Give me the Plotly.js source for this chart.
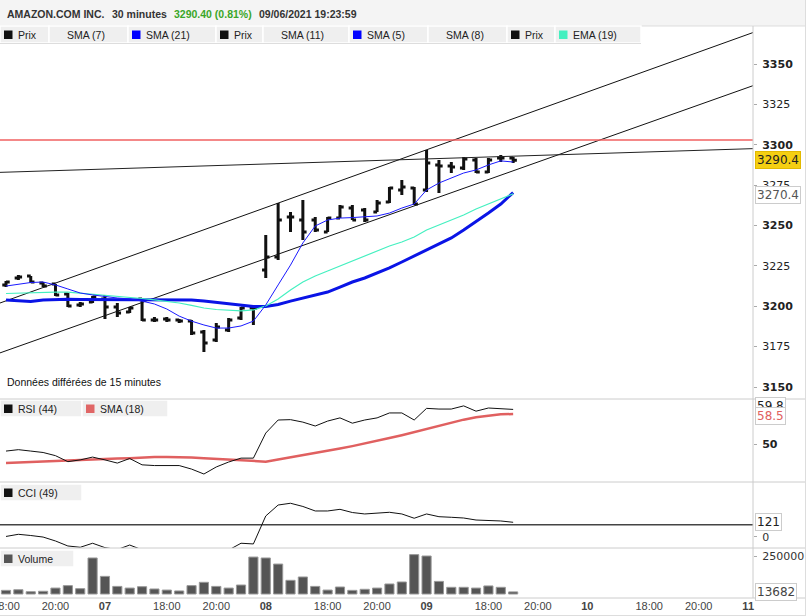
<!DOCTYPE html>
<html><head><meta charset="utf-8">
<script src="https://cdn.plot.ly/plotly-3.0.1.min.js"></script>
<style>html,body{margin:0;padding:0;background:#fff;overflow:hidden}#chart{width:806px;height:616px}</style>
</head><body><div id="chart"></div>
<script>
// ---------- DATA ----------
const barTimes = ['04 18:00','04 18:30','04 19:00','04 19:30','04 20:00','04 20:30','04 21:00','04 21:30',
 '07 15:30','07 16:00','07 16:30','07 17:00','07 17:30','07 18:00','07 18:30','07 19:00','07 19:30','07 20:00','07 20:30','07 21:00','07 21:30',
 '08 15:30','08 16:00','08 16:30','08 17:00','08 17:30','08 18:00','08 18:30','08 19:00','08 19:30','08 20:00','08 20:30','08 21:00','08 21:30',
 '09 15:30','09 16:00','09 16:30','09 17:00','09 17:30','09 18:00','09 18:30','09 19:00'];
const openP  = [3213.2,3217.5,3218.7,3214.4,3213.8,3207.6,3200.8,3202.6,3204.5,3199.6,3196.4,3204.5,3191.5,3192.1,3191.5,3190.8,3184.0,3179.1,3185.3,3192.7,3198.9,3222.4,3230.5,3255.3,3253.4,3253.4,3246.0,3254.6,3260.8,3259.6,3258.4,3264.5,3272.0,3273.2,3272.0,3287.5,3286.9,3285.6,3290.6,3283.1,3291.8,3291.8];
const highP  = [3215.6,3219.4,3218.7,3215.0,3213.8,3208.2,3202.6,3206.3,3207.0,3202.0,3199.6,3205.1,3193.3,3193.3,3192.1,3191.5,3185.3,3189.6,3192.7,3199.6,3199.6,3244.1,3263.9,3258.4,3265.8,3255.3,3255.3,3262.7,3262.7,3260.8,3265.8,3273.8,3278.2,3273.8,3296.8,3290.6,3289.3,3292.4,3291.8,3291.8,3293.7,3292.4];
const lowP   = [3211.9,3216.3,3214.4,3211.9,3206.3,3199.6,3199.6,3202.0,3192.1,3193.3,3195.8,3190.8,3190.2,3190.2,3189.6,3182.2,3171.7,3177.9,3184.0,3191.5,3188.4,3217.5,3228.6,3246.0,3241.0,3246.0,3246.0,3254.6,3253.4,3252.2,3258.4,3263.9,3268.9,3262.7,3270.7,3270.1,3282.5,3284.4,3282.5,3282.5,3289.3,3288.7];
const closeP = [3215.0,3218.1,3215.0,3212.5,3207.0,3200.2,3201.4,3205.7,3199.6,3195.8,3198.9,3191.5,3191.5,3191.5,3190.8,3183.4,3177.2,3187.1,3191.5,3198.9,3198.9,3230.5,3253.4,3255.3,3246.0,3247.2,3254.6,3261.5,3253.4,3253.4,3263.9,3273.2,3273.8,3263.3,3288.7,3286.9,3286.2,3291.2,3283.1,3290.6,3291.8,3290.4];
const sma5  = [3212.5,3213.8,3214.7,3215.0,3213.2,3210.7,3208.2,3207.0,3206.0,3205.1,3204.5,3203.2,3201.4,3198.3,3193.9,3190.8,3188.4,3186.5,3186.5,3187.8,3190.8,3200.8,3213.2,3225.5,3239.2,3249.7,3253.4,3254.6,3254.9,3255.3,3255.9,3257.7,3260.8,3263.3,3272.0,3276.3,3279.4,3282.5,3284.4,3287.5,3290.0,3289.3];
const sma21 = [3203.9,3203.6,3202.9,3203.9,3204.2,3204.3,3204.2,3204.2,3204.3,3204.2,3204.1,3204.2,3204.3,3204.2,3204.1,3203.9,3203.2,3202.3,3201.4,3200.5,3199.9,3199.9,3201.1,3203.2,3205.1,3207.0,3208.8,3211.9,3215.0,3217.5,3220.6,3223.7,3227.4,3231.1,3234.8,3238.5,3242.3,3247.2,3252.2,3257.7,3263.3,3270.4];
const ema19 = [3207.9,3208.2,3208.2,3208.5,3208.8,3208.8,3208.2,3207.6,3206.6,3206.0,3205.4,3204.8,3203.9,3202.9,3202.0,3200.5,3198.9,3198.0,3197.4,3197.1,3197.7,3200.2,3204.5,3210.1,3215.0,3218.7,3221.8,3224.9,3228.0,3231.1,3234.2,3237.3,3239.8,3242.9,3247.2,3250.3,3253.4,3256.5,3260.2,3263.3,3266.4,3269.6];
const rsi44 = [48.0,48.4,48.0,47.6,46.7,45.0,45.5,46.3,45.5,44.6,45.9,44.1,43.9,43.9,43.9,42.9,41.5,43.5,44.9,46.0,46.0,53.1,56.8,56.9,56.2,55.1,56.5,57.4,55.9,56.8,57.4,58.8,58.8,56.8,60.1,59.9,59.9,60.8,59.3,60.2,60.1,59.8];
const rsiSma18 = [44.6,44.8,44.9,45.0,45.2,45.3,45.5,45.6,45.8,45.9,46.0,46.2,46.3,46.3,46.3,46.2,46.0,45.8,45.5,45.2,45.0,45.0,45.6,46.2,46.7,47.3,48.0,48.7,49.4,50.1,50.8,51.7,52.5,53.4,54.2,55.2,56.1,56.9,57.6,58.1,58.4,58.5];
const cci49 = [2,20,10,-3,-36,-78,-89,-55,-92,-108,-70,-110,-130,-140,-135,-150,-180,-140,-112,-55,-61,174,266,281,254,216,216,230,203,191,197,205,191,155,191,168,163,157,140,136,132,121];
const volume = [24000,28000,15000,18000,39000,55000,35000,237000,116000,50000,39000,48000,33000,26000,20000,55000,77000,50000,39000,59000,243000,237000,197000,90000,112000,50000,26000,46000,24000,31000,39000,66000,79000,259000,250000,83000,44000,44000,39000,53000,44000,13682];
const cciLevel = 100;
const resistance = 3302.9;
const trendX = [-0.49, 60.4];
const upperChannel = [3202.0, 3369.5];
const lowerChannel = [3171.1, 3336.6];
const flatLine = [3282.9, 3297.6];
const timeTickIdx = [0,4,8,13,17,21,26,30,34,39,43,47,52,56,60];
const timeTickText = ['18:00','20:00','<b>07</b>','18:00','20:00','<b>08</b>','18:00','20:00','<b>09</b>','18:00','20:00','<b>10</b>','18:00','20:00','<b>11</b>'];
const priceTicks = [3150,3175,3200,3225,3250,3275,3300,3325,3350];

// ---------- LAYOUT HELPERS ----------
const W = 806, H = 616, ML = 0, MR = 53, MT = 27, MB = 18;
const PW = W - ML - MR, PH = H - MT - MB;
const px = p => (p - ML) / PW;
const py = p => (H - MB - p) / PH;
const x = barTimes.map((t, i) => i);
const shapes = [], annotations = [];
const FONT = 'Liberation Sans, Arial, sans-serif';
const AXF = 'DejaVu Sans, Verdana, sans-serif';

function hline(yPix, x0, x1, color, w) {
  shapes.push({type:'line', xref:'paper', yref:'paper', x0:px(x0), x1:px(x1), y0:py(yPix), y1:py(yPix), line:{color:color, width:w||1}, layer:'above'});
}
function vline(xPix, y0, y1, color, w) {
  shapes.push({type:'line', xref:'paper', yref:'paper', x0:px(xPix), x1:px(xPix), y0:py(y0), y1:py(y1), line:{color:color, width:w||1}, layer:'above'});
}
function legendRow(items, y0, y1) {
  const ym = (y0 + y1) / 2;
  items.forEach(([x0, x1, col, label]) => {
    shapes.push({type:'rect', xref:'paper', yref:'paper', x0:px(x0), x1:px(x1), y0:py(y1), y1:py(y0), fillcolor:'#efefef', line:{color:'#ffffff', width:1.5}, layer:'above'});
    if (col) shapes.push({type:'rect', xref:'paper', yref:'paper', x0:px(x0+4), x1:px(x0+12.5), y0:py(ym+4.5), y1:py(ym-4), fillcolor:col, line:{width:0}, layer:'above'});
    annotations.push({xref:'paper', yref:'paper', x:px(x0+16), y:py(ym), xanchor:'left', yanchor:'middle', text:label, showarrow:false, font:{family:FONT, size:10.5, color:'#222'}});
  });
}

// header
shapes.push({type:'rect', xref:'paper', yref:'paper', x0:px(0), x1:px(W), y0:py(26), y1:py(0), fillcolor:'#f4f4f4', line:{width:0}, layer:'above'});
hline(26, 0, W, '#dddddd', 1);
const hdr = [[5,'AMAZON.COM INC.','#333'],[110,'30 minutes','#333'],[172,'3290.40 (0.81%)','#3aa629'],[257,'09/06/2021 19:23:59','#333']];
hdr.forEach(([xp, t, c]) => annotations.push({xref:'paper', yref:'paper', x:px(xp), y:py(14), xanchor:'left', yanchor:'middle', text:'<b>'+t+'</b>', showarrow:false, font:{family:FONT, size:10.5, color:c}}));

legendRow([[0,49,'#111','Prix'],[49,128,null,'SMA (7)'],[128,216,'#0000ff','SMA (21)'],[216,263,'#111','Prix'],[263,349,null,'SMA (11)'],[349,428,'#0000ff','SMA (5)'],[428,507,null,'SMA (8)'],[507,555,'#111','Prix'],[555,641,'#44f0c0','EMA (19)']], 26, 43);
hline(43.5, 0, 641, '#dddddd', 1);
legendRow([[0,82,'#111','RSI (44)'],[82,168,'#e06666','SMA (18)']], 400, 417);
legendRow([[0,82,'#111','CCI (49)']], 484, 501);
legendRow([[0,74,'#555','Volume']], 550, 567);

// panel separators / frame
hline(399, 0, W, '#cccccc', 1);
hline(482, 0, W, '#cccccc', 1);
hline(548, 0, W, '#cccccc', 1);
hline(598, 0, W, '#cccccc', 1);
hline(615.5, 0, W, '#dddddd', 1);
vline(753, 26, 598, '#cccccc', 1);
vline(805.5, 0, H, '#dddddd', 1);

annotations.push({xref:'paper', yref:'paper', x:px(5), y:py(382), xanchor:'left', yanchor:'middle', text:'Données différées de 15 minutes', showarrow:false, font:{family:FONT, size:10.5, color:'#111'}});

// value labels on the right
function valLabel(yref, val, txt, bg, border, col, yshift) {
  annotations.push({xref:'paper', yref:yref, x:px(755), y:val, yshift:yshift||0, xanchor:'left', yanchor:'middle', text:txt, showarrow:false, bgcolor:bg, bordercolor:border, borderwidth:1, borderpad:1, font:{family:AXF, size:12, color:col}});
}
valLabel('y', sma21[sma21.length-1], sma21[sma21.length-1].toFixed(1), '#ffffff', '#cccccc', '#555', -2);
valLabel('y', closeP[closeP.length-1], closeP[closeP.length-1].toFixed(1), '#f5cf12', '#e2b900', '#222');
valLabel('y2', rsi44[rsi44.length-1], rsi44[rsi44.length-1].toFixed(1), '#ffffff', '#cccccc', '#222', 3);
valLabel('y2', rsiSma18[rsiSma18.length-1], rsiSma18[rsiSma18.length-1].toFixed(1), '#ffffff', '#cccccc', '#e06060', -2);
valLabel('y3', cci49[cci49.length-1], String(cci49[cci49.length-1]), '#ffffff', '#cccccc', '#222');
valLabel('y4', volume[volume.length-1], String(volume[volume.length-1]), '#ffffff', '#cccccc', '#444');

// ---------- TRACES ----------
const traces = [
  {type:'scatter', mode:'lines', x:trendX, y:upperChannel, line:{color:'#111', width:1}, yaxis:'y', hoverinfo:'skip'},
  {type:'scatter', mode:'lines', x:trendX, y:lowerChannel, line:{color:'#111', width:1}, yaxis:'y', hoverinfo:'skip'},
  {type:'scatter', mode:'lines', x:trendX, y:flatLine, line:{color:'#222', width:1}, yaxis:'y', hoverinfo:'skip'},
  {type:'scatter', mode:'lines', x:trendX, y:[resistance, resistance], line:{color:'#f06060', width:1.5}, yaxis:'y', hoverinfo:'skip'},
  {type:'scatter', mode:'lines', x:x, y:sma21, line:{color:'#0a14e6', width:3}, yaxis:'y'},
  {type:'scatter', mode:'lines', x:x, y:ema19, line:{color:'#44f0c0', width:1.2}, yaxis:'y'},
  {type:'scatter', mode:'lines', x:x, y:sma5, line:{color:'#1a1aff', width:1}, yaxis:'y'},
  {type:'ohlc', x:x, open:openP, high:highP, low:lowP, close:closeP, tickwidth:0.3, line:{width:3},
   increasing:{line:{color:'#111'}}, decreasing:{line:{color:'#111'}}, yaxis:'y'},
  {type:'scatter', mode:'lines', x:x, y:rsiSma18, line:{color:'#e06060', width:2.5}, yaxis:'y2'},
  {type:'scatter', mode:'lines', x:x, y:rsi44, line:{color:'#111', width:1}, yaxis:'y2'},
  {type:'scatter', mode:'lines', x:trendX, y:[cciLevel, cciLevel], line:{color:'#444', width:1.5}, yaxis:'y3'},
  {type:'scatter', mode:'lines', x:x, y:cci49, line:{color:'#111', width:1}, yaxis:'y3'},
  {type:'bar', x:x, y:volume, width:0.74, marker:{color:'#555555', line:{color:'#999999', width:1}}, yaxis:'y4'}
];

const yCommon = {side:'right', anchor:'x', showgrid:false, zeroline:false, showline:false, ticks:'outside', ticklen:3, tickcolor:'#aaaaaa', fixedrange:true, ticklabelstandoff:3};
const layout = {
  width:W, height:H, margin:{l:ML, r:MR, t:MT, b:MB, pad:0},
  paper_bgcolor:'#ffffff', plot_bgcolor:'#ffffff', showlegend:false, bargap:0,
  font:{family:FONT, size:11, color:'#333'},
  xaxis:{range:[-0.485, 60.39], anchor:'y4', domain:[0,1], showgrid:false, zeroline:false, showline:false,
    tickvals:timeTickIdx, ticktext:timeTickText, ticks:'', ticklabeloverflow:'allow', ticklabelstandoff:0,
    tickfont:{family:FONT, size:11, color:'#444'}, rangeslider:{visible:false}, fixedrange:true},
  yaxis:Object.assign({}, yCommon, {domain:[py(399), 1], range:[3142.57, 3372.91], tickvals:priceTicks,
    ticktext:priceTicks.map(v => v % 50 === 0 ? '<b>'+v+'</b>' : String(v)), tickfont:{family:AXF, size:11, color:'#222'}}),
  yaxis2:Object.assign({}, yCommon, {domain:[py(482), py(399)], range:[39.24, 62.75], tickvals:[50], ticktext:['<b>50</b>'], tickfont:{family:AXF, size:11, color:'#222'}}),
  yaxis3:Object.assign({}, yCommon, {domain:[py(548), py(482)], range:[-95, 459.5], tickvals:[0], ticktext:['0'], tickfont:{family:AXF, size:11, color:'#333'}}),
  yaxis4:Object.assign({}, yCommon, {domain:[0, py(548)], range:[-26316, 302634], tickvals:[250000], ticktext:['250000'], tickfont:{family:AXF, size:11, color:'#333'}}),
  shapes:shapes, annotations:annotations
};
Plotly.newPlot('chart', traces, layout, {staticPlot:true, displayModeBar:false});
</script>
</body></html>
